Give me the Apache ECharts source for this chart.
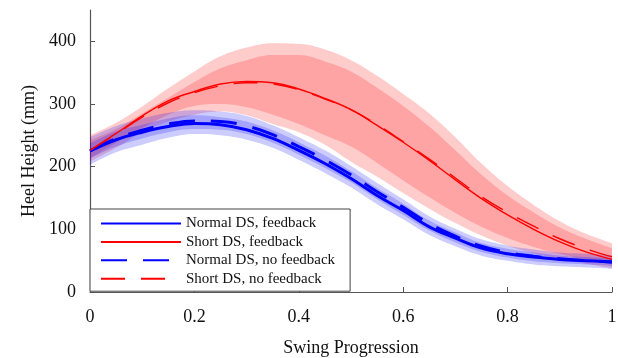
<!DOCTYPE html>
<html>
<head>
<meta charset="utf-8">
<script src="https://cdn.jsdelivr.net/npm/echarts@6/dist/echarts.min.js"></script>
<style>
  html, body { margin: 0; padding: 0; background: #fff; }
  #chart { width: 618px; height: 358px; }
</style>
</head>
<body>
<div id="chart"></div>
<script>
// swing progression samples
const progress = [0, 0.05, 0.1, 0.15, 0.2, 0.25, 0.3, 0.35, 0.4, 0.45, 0.5,
  0.55, 0.6, 0.65, 0.7, 0.75, 0.8, 0.85, 0.9, 0.95, 1];

// mean heel height (mm)
const normalFb   = [225, 243, 255, 264, 269, 267, 259, 245, 226, 205, 181, 154, 130, 104, 86, 70, 61, 56, 52, 50, 48];
const shortFb    = [226, 253, 281, 305, 320, 332, 336, 334, 324, 309, 291, 266, 239, 210, 179, 149, 123, 100, 80, 64, 52];
const normalNoFb = [225, 245, 258, 268, 273, 272, 265, 251, 232, 211, 187, 160, 135, 109, 89, 73, 63, 57, 53, 50, 48];
const shortNoFb  = [226, 252, 279, 302, 318, 329, 334, 332, 323, 308, 291, 267, 240, 212, 182, 152, 127, 105, 85, 69, 56];

// shaded spreads
const shortOuterUp = [250, 270, 296, 325, 352, 376, 390, 397, 396, 387, 370, 345, 316, 285, 247, 205, 169, 139, 113, 93, 78];
const shortOuterLo = [208, 230, 255, 272, 283, 288, 282, 268, 255, 235, 208, 184, 158, 133, 110, 90, 74, 62, 53, 45, 38];
const shortInnerUp = [242, 260, 285, 310, 335, 357, 370, 378, 378, 368, 352, 326, 297, 264, 226, 187, 154, 127, 103, 85, 70];
const shortInnerLo = [213, 238, 262, 283, 297, 300, 295, 283, 268, 250, 232, 206, 178, 151, 126, 104, 86, 72, 61, 52, 45];

const normalOuterUp = [247, 265, 277, 286, 290, 288, 281, 266, 247, 226, 201, 174, 148, 121, 101, 84, 74, 68, 63, 61, 59];
const normalOuterLo = [203, 223, 235, 246, 252, 250, 243, 230, 211, 190, 167, 140, 116, 91, 73, 58, 50, 44, 41, 39, 37];
const normalInnerUp = [237, 256, 267, 277, 282, 279, 272, 258, 239, 218, 193, 166, 141, 114, 95, 78, 69, 63, 58, 56, 54];
const normalInnerLo = [213, 232, 245, 255, 260, 259, 252, 238, 219, 198, 175, 148, 123, 98, 79, 64, 55, 49, 46, 44, 42];

const yTicks = [0, 100, 200, 300, 400];

const FONT = "Liberation Serif";
const AXIS_COLOR = "#555";

function band(lo, up, color, id) {
  return [
    {
      type: "line", stack: id, data: lo, smooth: 0.4, symbol: "none",
      lineStyle: { opacity: 0 }, silent: true, z: 1,
    },
    {
      type: "line", stack: id, smooth: 0.4, symbol: "none",
      data: up.map((v, i) => v - lo[i]),
      lineStyle: { opacity: 0 }, areaStyle: { color: color, opacity: 1 },
      silent: true, z: 1,
    },
  ];
}

function meanLine(name, ys, color, width, type) {
  return {
    name, type: "line", data: ys, smooth: 0.4, symbol: "none", z: 3,
    lineStyle: { color, width, type },
    itemStyle: { color },
  };
}

const chart = echarts.init(document.getElementById("chart"));
chart.setOption({
  animation: false,
  grid: { left: 90, right: 6, top: 10, bottom: 66, outerBoundsMode: "none" },
  xAxis: {
    type: "category", boundaryGap: false,
    data: progress.map(String),
    name: "Swing Progression", nameLocation: "middle", nameGap: 47,
    nameTextStyle: { fontFamily: FONT, fontSize: 18, color: "#111" },
    axisLine: { lineStyle: { color: AXIS_COLOR, width: 1.2 } },
    axisTick: { inside: true, length: 5, interval: 3, lineStyle: { color: AXIS_COLOR } },
    axisLabel: { fontFamily: FONT, fontSize: 18, color: "#111", margin: 16, interval: 3 },
    splitLine: { show: false },
  },
  yAxis: {
    type: "value", min: 0, max: 450,
    name: "Heel Height (mm)", nameLocation: "middle", nameGap: 52,
    nameTextStyle: { fontFamily: FONT, fontSize: 18, color: "#111" },
    axisLine: { show: true, lineStyle: { color: AXIS_COLOR, width: 1.2 } },
    axisTick: { show: true, inside: true, length: 5, customValues: yTicks, lineStyle: { color: AXIS_COLOR } },
    axisLabel: { fontFamily: FONT, fontSize: 18, color: "#111", margin: 14, customValues: yTicks },
    splitLine: { show: false },
  },
  legend: {
    orient: "vertical", left: 90, top: 209,
    data: ["Normal DS, feedback", "Short DS, feedback", "Normal DS, no feedback", "Short DS, no feedback"],
    itemWidth: 80, itemHeight: 14, itemGap: 3.4,
    padding: [7, 15, 5, 10],
    itemStyle: { opacity: 0 },
    backgroundColor: "#fff", borderColor: "#444", borderWidth: 1, borderRadius: 0,
    textStyle: { fontFamily: FONT, fontSize: 15, color: "#111" },
  },
  series: [
    ...band(shortOuterLo, shortOuterUp, "rgba(255,0,0,0.2)", "so"),
    ...band(shortInnerLo, shortInnerUp, "rgba(255,0,0,0.2)", "si"),
    ...band(normalOuterLo, normalOuterUp, "rgba(0,0,255,0.2)", "no"),
    ...band(normalInnerLo, normalInnerUp, "rgba(0,0,255,0.2)", "ni"),
    meanLine("Normal DS, feedback", normalFb, "#0000ff", 3, "solid"),
    meanLine("Short DS, feedback", shortFb, "#ff0000", 1.4, "solid"),
    meanLine("Normal DS, no feedback", normalNoFb, "#0000ff", 3, [26, 16]),
    meanLine("Short DS, no feedback", shortNoFb, "#ff0000", 1.4, [24, 16]),
  ],
});
</script>
</body>
</html>
